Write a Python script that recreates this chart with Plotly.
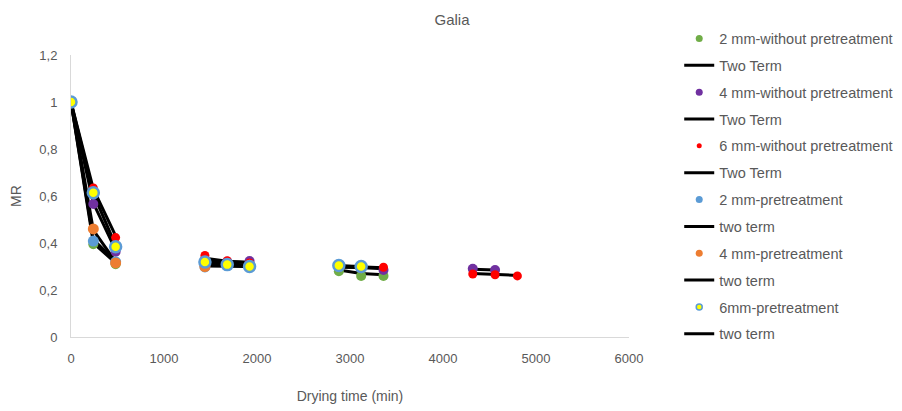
import plotly.graph_objects as go

# ---- data ----
t_g = [0, 240, 480, 1440, 1680, 1920, 2880, 3120, 3360]
mr_g = [1.0, 0.395, 0.31, 0.30, 0.31, 0.31, 0.28, 0.26, 0.26]
fit_g = [1.0, 0.40, 0.315, 0.305, 0.305, 0.30, 0.285, 0.27, 0.265]

t_p = [0, 240, 480, 1440, 1680, 1920, 2880, 3120, 3360, 4320, 4560]
mr_p = [1.0, 0.566, 0.363, 0.33, 0.32, 0.323, 0.30, 0.295, 0.285, 0.29, 0.285]
fit_p = [1.0, 0.57, 0.37, 0.325, 0.32, 0.318, 0.30, 0.295, 0.29, 0.288, 0.285]

t_r = [0, 240, 480, 1440, 1680, 1920, 2880, 3120, 3360, 4320, 4560, 4800]
mr_r = [1.0, 0.634, 0.423, 0.347, 0.325, 0.315, 0.30, 0.295, 0.297, 0.268, 0.265, 0.26]
fit_r = [1.0, 0.63, 0.43, 0.335, 0.322, 0.316, 0.302, 0.298, 0.295, 0.27, 0.266, 0.262]

t_b = [0, 240, 480, 1440, 1680, 1920, 2880, 3120]
mr_b = [1.0, 0.408, 0.32, 0.298, 0.305, 0.30, 0.30, 0.295]
fit_b = [1.0, 0.415, 0.322, 0.302, 0.302, 0.30, 0.298, 0.296]

t_o = [0, 240, 480, 1440, 1680, 1920, 2880, 3120]
mr_o = [1.0, 0.46, 0.315, 0.30, 0.31, 0.305, 0.30, 0.295]
fit_o = [1.0, 0.455, 0.32, 0.305, 0.305, 0.303, 0.299, 0.297]

t_y = [0, 240, 480, 1440, 1680, 1920, 2880, 3120]
mr_y = [1.0, 0.614, 0.384, 0.319, 0.308, 0.30, 0.304, 0.30]
fit_y = [1.0, 0.61, 0.39, 0.318, 0.31, 0.305, 0.303, 0.30]

names = ["2 mm-without pretreatment", "4 mm-without pretreatment", "6 mm-without pretreatment",
         "2 mm-pretreatment", "4 mm-pretreatment", "6mm-pretreatment"]
fit_names = ["Two Term", "Two Term", "Two Term", "two term", "two term", "two term"]
ts = [t_g, t_p, t_r, t_b, t_o, t_y]
mrs = [mr_g, mr_p, mr_r, mr_b, mr_o, mr_y]
fits = [fit_g, fit_p, fit_r, fit_b, fit_o, fit_y]

x_ticks = [0, 1000, 2000, 3000, 4000, 5000, 6000]
y_ticks = [0, 0.2, 0.4, 0.6, 0.8, 1.0, 1.2]
y_ticktext = ["0", "0,2", "0,4", "0,6", "0,8", "1", "1,2"]

# ---- styles ----
fills = ["#70AD47", "#7030A0", "#FF0000", "#5B9BD5", "#ED7D31", "#FFFF00"]
borders = ["#70AD47", "#7030A0", "#FF0000", "#5B9BD5", "#ED7D31", "#5B9BD5"]
sizes = [10, 10, 9, 11, 11, 11]
bw = [0, 0, 0, 0, 0, 2.5]
leg_sizes = [7, 7, 5, 7, 7, 6]
leg_bw = [0, 0, 0, 0, 0, 1.5]
TXT = "#595959"


def with_gaps(xs, ys, gap=600):
    """Break the fitted curve between drying days (Excel blank cells)."""
    gx, gy = [], []
    for k, (a, b) in enumerate(zip(xs, ys)):
        if k > 0 and a - xs[k - 1] > gap:
            gx.append(None)
            gy.append(None)
        gx.append(a)
        gy.append(b)
    return gx, gy


fig = go.Figure()

# fit lines (behind markers)
for i in range(6):
    lx, ly = with_gaps(ts[i], fits[i])
    fig.add_trace(go.Scatter(x=lx, y=ly, mode="lines", connectgaps=False,
                             line=dict(color="black", width=3), showlegend=False,
                             hoverinfo="skip"))
# data markers
for i in range(6):
    fig.add_trace(go.Scatter(x=ts[i], y=mrs[i], mode="markers", name=names[i],
                             marker=dict(color=fills[i], size=sizes[i],
                                         line=dict(color=borders[i], width=bw[i])),
                             showlegend=False))
# legend entries (split over two legend boxes stacked vertically)
for i in range(6):
    lg = "legend" if i < 3 else "legend2"
    fig.add_trace(go.Scatter(x=[None], y=[None], mode="markers", name=names[i],
                             legend=lg, legendgroup="m%d" % i,
                             marker=dict(color=fills[i], size=leg_sizes[i],
                                         line=dict(color=borders[i], width=leg_bw[i]))))
    fig.add_trace(go.Scatter(x=[None], y=[None], mode="lines", name=fit_names[i],
                             legend=lg, legendgroup="l%d" % i,
                             line=dict(color="black", width=3)))

leg_common = dict(x=1.09, xanchor="left", yanchor="top",
                  tracegroupgap=5, font=dict(size=14.5, color=TXT),
                  bgcolor="rgba(0,0,0,0)")
plot_top, plot_h = 55, 282
leg1_top = 22.5
leg2_top = leg1_top + 6 * 26.85

fig.update_layout(
    width=902, height=411,
    margin=dict(l=63, r=281, t=47, b=82),
    paper_bgcolor="white", plot_bgcolor="white",
    separators=", ",
    title=dict(text="Galia", x=444 / 902, xanchor="center", xref="container",
               y=1 - 12 / 411, yanchor="middle", yref="container",
               font=dict(family="Liberation Sans", size=15, color=TXT)),
    font=dict(family="Liberation Sans", size=13, color=TXT),
    legend=dict(y=1 + (plot_top - leg1_top) / plot_h, **leg_common),
    legend2=dict(y=1 + (plot_top - leg2_top) / plot_h, **leg_common),
    xaxis=dict(range=[0, 6000], tickvals=x_ticks, showgrid=False, zeroline=False,
               showline=True, linecolor="#D9D9D9", linewidth=1, ticks="",
               ticklabelstandoff=9, automargin=False,
               title=dict(text="Drying time (min)", font=dict(size=14, color=TXT), standoff=26),
               tickfont=dict(size=13, color=TXT)),
    yaxis=dict(range=[0, 1.2], tickvals=y_ticks, ticktext=y_ticktext,
               showgrid=False, zeroline=False,
               showline=True, linecolor="#D9D9D9", linewidth=1, ticks="",
               ticklabelstandoff=10, automargin=False,
               title=dict(text="MR", font=dict(size=14, color=TXT), standoff=18),
               tickfont=dict(size=13, color=TXT)),
)

fig.write_html("out.html")
